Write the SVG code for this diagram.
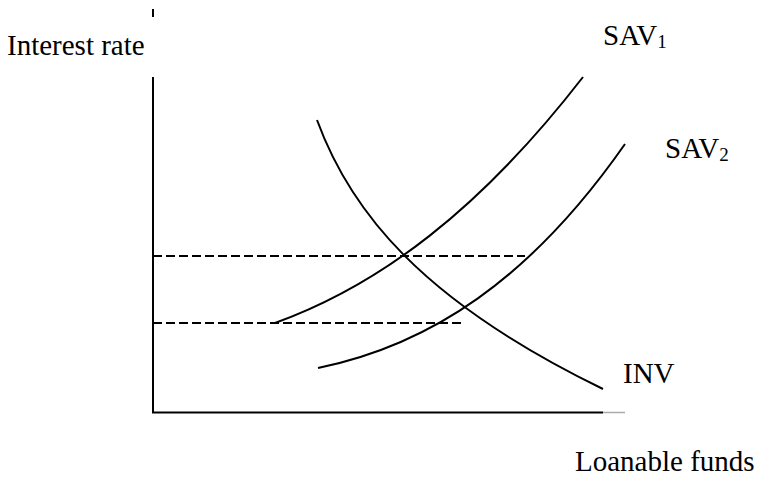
<svg xmlns="http://www.w3.org/2000/svg" width="758" height="478" viewBox="0 0 758 478">
<style>
.t{font-family:"Liberation Serif","Times New Roman",serif;font-size:29px;fill:#000}
.s{font-size:19px}
.ax{stroke:#000;stroke-width:2;fill:none}
.c{stroke:#000;stroke-width:2;fill:none}
.d{stroke:#000;stroke-width:2;stroke-dasharray:9 4;fill:none}
</style>
<rect width="758" height="478" fill="#fff"/>
<g id="axes">
<line class="ax" x1="153" y1="9" x2="153" y2="17"/>
<line class="ax" x1="153" y1="77" x2="153" y2="413"/>
<line class="ax" x1="152" y1="412.5" x2="603" y2="412.5"/>
<line x1="603" y1="412.5" x2="625" y2="412.5" stroke="#aaa" stroke-width="1.5"/>
</g>
<g id="dashed">
<line class="d" x1="153" y1="256" x2="525" y2="256"/>
<line class="d" x1="153" y1="323" x2="461" y2="323"/>
</g>
<g id="curves">
<path id="sav1" class="c" d="M275,323 C380,285 480,210 583,77"/>
<path id="sav2" class="c" d="M318,368 C430,345 530,280 625,144"/>
<path id="inv" class="c" d="M317,120 C350,210 420,300 603,389"/>
</g>
<g id="labels">
<text class="t" x="7" y="55">Interest rate</text>
<text class="t" x="603" y="45">SAV<tspan class="s" dy="3">1</tspan></text>
<text class="t" x="665" y="158">SAV<tspan class="s" dy="3">2</tspan></text>
<text class="t" x="623" y="383">INV</text>
<text class="t" x="575" y="471">Loanable funds</text>
</g>
</svg>
